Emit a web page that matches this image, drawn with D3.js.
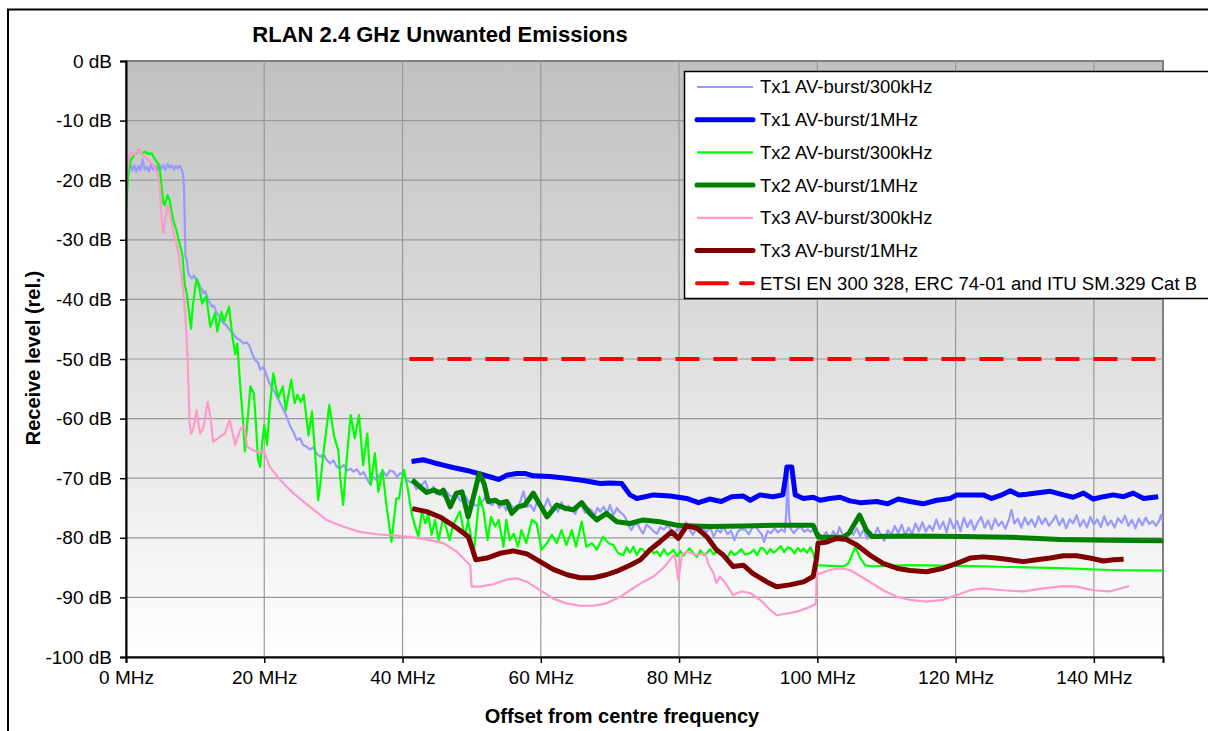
<!DOCTYPE html>
<html>
<head>
<meta charset="utf-8">
<script src="https://cdn.jsdelivr.net/npm/d3@7"></script>
<style>
  body { margin: 0; background: #fff; }
  svg { display: block; font-family: "Liberation Sans", Arial, sans-serif; }
</style>
</head>
<body>
<svg id="drawing_region"></svg>
<script>
// values: [offset MHz, level dB]
const tx1_300k = [[0,-22],[0.3,-18.8],[0.6,-17.2],[0.9,-18.4],[1.2,-17.5],[1.5,-18.6],[1.8,-17.6],[2.1,-18.3],[2.4,-16.5],[2.7,-18.2],[3.0,-17.8],[3.3,-18.5],[3.6,-17.4],[3.9,-18.2],[4.2,-17.6],[4.5,-18.4],[4.8,-17.3],[5.1,-18.1],[5.4,-17.5],[5.7,-18.3],[6.0,-17.2],[6.3,-17.9],[6.6,-17.5],[6.9,-18.2],[7.2,-17.6],[7.5,-18.0],[7.8,-17.6],[8.1,-18.3],[8.3,-19.5],[8.4,-21.6],[8.5,-27.2],[8.6,-32.8],[8.8,-33.5],[9.0,-35.6],[9.3,-36.2],[9.5,-36.5],[9.8,-36.0],[10.2,-36.7],[10.5,-37.2],[10.7,-37.9],[11.0,-38.3],[11.2,-39.0],[11.5,-38.6],[11.7,-39.5],[12.0,-40.3],[12.4,-41.2],[12.7,-41.0],[13.1,-42.3],[13.5,-42.8],[14.1,-44.0],[14.5,-44.3],[15.0,-45.1],[15.5,-45.8],[16.0,-46.5],[16.5,-46.8],[17.0,-47.4],[17.5,-47.2],[17.9,-47.9],[18.3,-49.3],[18.7,-50.2],[19.1,-50.6],[19.4,-51.8],[19.9,-51.3],[20.4,-53.0],[20.8,-54.2],[21.5,-55.5],[22.3,-57.4],[23.0,-59.0],[23.7,-61.1],[24.2,-62.2],[24.7,-63.6],[25.2,-63.3],[25.6,-64.4],[26.1,-64.7],[26.6,-65.2],[27.1,-64.8],[27.6,-65.9],[28.1,-66.4],[28.6,-66.0],[29.0,-66.9],[29.5,-67.5],[30.0,-67.0],[30.5,-68.1],[31.0,-68.3],[31.5,-67.8],[32.0,-68.7],[32.5,-68.4],[32.9,-68.9],[33.4,-68.5],[33.9,-69.4],[34.4,-69.0],[34.8,-70.0],[35.3,-71.0],[35.8,-69.8],[36.3,-70.4],[36.8,-69.2],[37.2,-68.9],[37.7,-69.6],[38.2,-68.7],[38.7,-68.9],[39.2,-69.8],[39.7,-69.1],[40.1,-69.5],[40.6,-70.3],[41.1,-70.6],[41.6,-70.9],[42.0,-71.8],[42.5,-71.6],[43.0,-70.8],[43.3,-70.5],[43.7,-71.9],[44.0,-72.2],[44.5,-71.4],[44.9,-72.7],[45.4,-72.0],[45.8,-73.0],[46.3,-72.2],[46.8,-72.9],[47.3,-73.1],[47.8,-72.4],[48.2,-73.6],[48.6,-73.9],[49.1,-73.0],[49.6,-74.1],[50.0,-73.7],[50.5,-74.6],[51.2,-74.5],[51.6,-73.8],[52.0,-73.1],[52.5,-74.2],[53.0,-74.5],[53.5,-73.6],[54.0,-75.0],[54.5,-74.3],[55.0,-75.4],[55.5,-74.2],[56.0,-75.0],[56.5,-75.3],[57.0,-74.0],[57.5,-72.2],[58.0,-74.8],[58.5,-74.5],[59.0,-75.5],[59.4,-74.2],[59.9,-74.5],[60.4,-75.2],[61.0,-73.4],[61.5,-74.9],[62.0,-74.8],[62.5,-75.6],[63.0,-74.0],[63.5,-75.4],[64.0,-74.6],[64.5,-75.3],[65.0,-76.0],[65.5,-74.5],[65.9,-74.5],[66.4,-75.8],[66.8,-75.1],[67.3,-75.3],[67.8,-76.2],[68.2,-75.0],[68.6,-75.6],[69.1,-74.8],[69.6,-75.9],[70.0,-74.5],[70.5,-76.2],[71.0,-75.0],[71.4,-75.6],[71.8,-76.0],[72.2,-76.5],[72.6,-77.8],[73.1,-78.7],[73.6,-77.6],[74.1,-77.9],[74.5,-78.8],[74.8,-79.3],[75.3,-77.8],[75.9,-78.4],[76.3,-78.9],[76.8,-79.3],[77.3,-78.2],[77.8,-78.6],[78.4,-77.9],[78.9,-78.8],[79.4,-79.3],[79.9,-78.3],[80.4,-78.8],[81.0,-77.4],[81.5,-78.6],[82.0,-79.5],[82.5,-78.4],[83.0,-78.9],[83.4,-78.4],[84.0,-79.0],[84.5,-78.2],[85.0,-79.8],[85.5,-78.6],[86.0,-79.1],[86.4,-78.1],[87.0,-79.4],[87.5,-78.8],[88.0,-80.4],[88.5,-79.0],[89.0,-78.5],[89.6,-78.7],[90.1,-79.4],[90.5,-78.5],[91.0,-77.9],[91.5,-78.8],[92.0,-79.5],[92.3,-80.7],[92.8,-78.9],[93.3,-79.2],[93.8,-78.4],[94.3,-79.1],[94.8,-78.6],[95.3,-79.0],[95.5,-76.0],[95.7,-69.2],[95.9,-76.0],[96.1,-78.4],[96.6,-79.2],[97.1,-78.5],[97.6,-78.1],[98.1,-79.0],[98.6,-78.6],[99.0,-79.0],[99.5,-78.7],[100.0,-79.2],[100.3,-79.3],[100.8,-80.0],[101.3,-79.0],[101.8,-80.3],[102.3,-78.9],[102.8,-79.8],[103.2,-78.2],[103.7,-79.6],[104.2,-80.4],[104.7,-78.8],[105.2,-79.5],[105.7,-78.4],[106.2,-79.7],[106.7,-78.6],[107.2,-80.2],[107.7,-79.0],[108.2,-79.8],[108.7,-78.3],[109.2,-79.6],[109.7,-80.5],[110.2,-78.7],[110.7,-79.5],[111.2,-78.0],[111.7,-79.2],[112.2,-77.8],[112.7,-79.6],[113.2,-78.3],[113.7,-79.4],[114.2,-77.6],[114.7,-78.9],[115.2,-77.4],[115.7,-79.0],[116.2,-77.9],[116.7,-78.8],[117.2,-76.9],[117.7,-78.5],[118.2,-77.3],[118.7,-79.1],[119.2,-76.8],[119.7,-78.4],[120.2,-77.2],[120.7,-78.9],[121.2,-76.6],[121.7,-78.2],[122.2,-77.0],[122.7,-78.7],[123.2,-77.4],[123.7,-76.5],[124.2,-78.3],[124.7,-77.1],[125.2,-78.6],[125.7,-76.8],[126.2,-78.0],[126.7,-77.3],[127.2,-78.5],[127.7,-77.0],[128.1,-75.3],[128.5,-77.6],[129.0,-76.8],[129.5,-78.3],[130.0,-76.6],[130.5,-77.8],[131.0,-76.9],[131.5,-78.2],[132.0,-76.4],[132.5,-77.7],[133.0,-76.7],[133.5,-78.0],[134.0,-77.2],[134.5,-76.3],[135.0,-77.9],[135.5,-76.8],[136.0,-78.4],[136.5,-76.9],[137.0,-77.6],[137.5,-76.2],[138.0,-78.1],[138.5,-77.0],[139.0,-78.3],[139.5,-76.5],[140.0,-77.8],[140.5,-76.9],[141.0,-78.2],[141.5,-76.4],[142.0,-77.9],[142.5,-77.1],[143.0,-78.3],[143.5,-76.7],[144.0,-77.5],[144.5,-76.3],[145.0,-78.0],[145.5,-77.0],[146.0,-78.4],[146.5,-76.8],[147.0,-77.9],[147.5,-76.6],[148.0,-77.7],[148.5,-77.2],[149.0,-78.0],[149.5,-77.0],[149.7,-76.2],[150,-77.3]];

const tx1_1M = [[41.3,-67.2],[43.0,-66.9],[44.5,-67.4],[45.9,-67.8],[47.3,-68.2],[49.3,-68.7],[51.2,-69.3],[52.7,-69.8],[53.9,-70.2],[55.1,-69.5],[56.5,-69.2],[57.7,-69.2],[58.9,-69.6],[61.3,-69.7],[63.7,-70.0],[66.2,-70.4],[68.6,-70.9],[70.0,-70.8],[71.7,-70.9],[72.9,-72.8],[73.9,-73.4],[76.3,-72.8],[78.7,-73.0],[81.1,-73.4],[82.8,-74.1],[84.4,-73.5],[86.1,-73.9],[87.6,-73.1],[89.3,-73.0],[90.3,-73.7],[91.7,-72.8],[93.6,-73.1],[95.0,-72.8],[95.4,-70.0],[95.6,-68.1],[96.3,-68.1],[96.5,-70.0],[96.8,-72.8],[98.0,-73.4],[99.4,-73.2],[100.4,-73.7],[101.8,-73.4],[103.3,-73.2],[104.7,-73.8],[106.2,-74.1],[108.6,-73.9],[110.2,-74.3],[111.7,-73.5],[113.4,-73.9],[115.3,-74.3],[117.3,-73.7],[119.2,-73.4],[120.2,-72.8],[122.1,-72.8],[124.0,-72.8],[125.2,-73.4],[126.7,-72.8],[127.9,-72.1],[129.1,-72.8],[130.3,-72.7],[131.7,-72.5],[133.7,-72.2],[135.6,-72.8],[137.0,-73.2],[138.5,-72.5],[139.9,-73.5],[141.4,-73.1],[142.8,-72.8],[144.3,-73.1],[145.7,-72.5],[147.2,-73.4],[149.3,-73.1]];

const tx2_300k = [[0,-25],[0.3,-19.4],[0.7,-16.6],[1.2,-15.8],[1.5,-15.5],[1.8,-14.9],[2.3,-15.6],[2.7,-15.2],[3.2,-15.6],[3.7,-15.5],[4.1,-16.3],[4.6,-17.2],[4.9,-18.3],[5.1,-20.5],[5.4,-23.9],[5.6,-24.2],[6.0,-22.5],[6.3,-23.3],[6.6,-25.3],[6.9,-27.0],[7.3,-28.4],[7.6,-30.0],[8.0,-31.7],[8.2,-33.0],[8.5,-37.5],[8.8,-39.0],[9.1,-42.0],[9.4,-44.9],[9.7,-40.7],[10.2,-36.5],[10.6,-38.0],[11.0,-40.7],[11.6,-39.5],[12.2,-44.6],[12.9,-42.3],[13.2,-45.4],[13.8,-42.1],[14.2,-43.7],[14.9,-41.2],[15.4,-46.3],[15.8,-49.2],[16.1,-47.4],[16.5,-54.1],[16.9,-60.0],[17.2,-65.5],[17.6,-60.0],[18.0,-54.6],[18.5,-55.8],[18.8,-61.0],[19.1,-66.9],[19.4,-68.1],[19.7,-64.0],[20.0,-61.1],[20.4,-64.4],[20.8,-58.0],[21.3,-52.4],[22.0,-56.6],[22.7,-54.6],[23.1,-58.6],[23.9,-53.5],[24.4,-57.4],[24.8,-56.0],[25.3,-57.2],[25.7,-56.0],[26.4,-62.8],[26.9,-58.8],[27.3,-65.0],[27.8,-73.7],[28.1,-71.0],[28.5,-66.4],[29.4,-57.7],[30.1,-63.0],[30.7,-65.3],[31.0,-70.0],[31.4,-74.5],[32.0,-65.8],[32.5,-59.4],[33.1,-63.3],[33.7,-59.4],[34.3,-67.8],[34.9,-62.5],[35.4,-71.1],[36.0,-65.8],[36.5,-72.3],[37.1,-68.6],[37.7,-74.8],[38.4,-80.7],[39.1,-73.4],[39.5,-73.4],[39.8,-71.0],[40.2,-68.6],[40.8,-72.0],[41.3,-75.9],[41.8,-78.0],[42.3,-79.8],[42.8,-75.6],[43.3,-77.6],[43.7,-75.9],[44.2,-79.5],[44.7,-77.0],[45.2,-80.4],[45.9,-76.5],[46.8,-80.4],[47.3,-77.9],[48.3,-75.6],[49.0,-79.8],[49.5,-77.0],[50.3,-82.6],[51.1,-73.1],[51.7,-75.3],[52.3,-80.4],[52.8,-76.5],[53.4,-78.1],[53.9,-77.0],[54.6,-81.5],[55.0,-77.0],[55.5,-80.4],[56.1,-79.3],[56.7,-81.5],[57.2,-78.7],[57.9,-80.9],[58.7,-77.0],[59.4,-77.6],[60.1,-82.0],[60.9,-80.9],[61.6,-79.5],[62.3,-80.9],[63.0,-78.7],[63.7,-81.2],[64.5,-78.7],[65.1,-81.5],[65.9,-77.3],[66.6,-81.5],[67.4,-80.9],[68.1,-82.0],[69.0,-79.8],[69.8,-80.9],[70.5,-81.2],[71.2,-82.6],[71.9,-82.9],[72.4,-81.6],[72.9,-82.5],[73.4,-81.5],[73.9,-82.9],[74.4,-81.8],[74.8,-82.0],[75.3,-83.0],[75.8,-81.7],[76.3,-82.6],[76.8,-82.3],[77.3,-83.1],[77.8,-81.9],[78.3,-82.8],[78.7,-82.6],[79.2,-82.0],[79.7,-83.1],[80.2,-82.2],[80.6,-83.0],[81.0,-82.5],[81.5,-81.8],[82.1,-82.6],[82.6,-83.2],[83.1,-82.1],[83.6,-82.9],[84.0,-82.6],[84.5,-81.9],[85.0,-82.8],[85.5,-82.2],[86.0,-82.5],[86.5,-83.0],[87.0,-83.3],[87.5,-82.2],[88.0,-82.9],[88.5,-82.5],[89.0,-81.9],[89.5,-82.8],[90.3,-82.6],[90.8,-82.0],[91.3,-82.9],[91.8,-81.7],[92.2,-81.8],[92.7,-82.7],[93.2,-81.9],[93.7,-82.5],[94.2,-82.0],[94.7,-81.4],[95.2,-82.4],[95.7,-81.6],[96.2,-81.8],[96.7,-82.6],[97.2,-81.7],[97.6,-82.3],[98.0,-81.8],[98.5,-82.5],[99.0,-81.6],[99.4,-82.6],[99.9,-84.6],[101.8,-84.7],[103.8,-84.8],[104.5,-84.3],[105.5,-81.5],[106.1,-83.2],[106.9,-84.6],[107.9,-84.8],[113.4,-84.6],[120.6,-84.7],[127.9,-84.9],[135.1,-85.1],[142.3,-85.4],[150,-85.5]];

const tx2_1M = [[41.4,-70.3],[42.5,-71.4],[43.5,-72.4],[44.5,-72.0],[45.4,-72.5],[45.9,-72.0],[46.9,-74.8],[47.8,-72.5],[48.6,-72.3],[49.5,-76.5],[50.2,-73.4],[51.1,-69.2],[51.8,-70.9],[52.4,-73.9],[53.4,-73.7],[54.1,-74.2],[55.1,-73.9],[55.8,-75.9],[56.7,-74.8],[57.7,-74.5],[58.9,-72.5],[59.9,-74.5],[60.9,-76.5],[62.3,-74.5],[63.7,-75.1],[64.7,-75.3],[65.9,-74.1],[67.1,-75.9],[68.1,-77.0],[69.5,-75.9],[71.0,-77.3],[72.9,-77.6],[74.8,-77.0],[77.2,-77.3],[79.7,-77.9],[82.1,-78.0],[84.5,-78.1],[89.3,-78.0],[94.1,-77.9],[99.4,-77.9],[99.9,-79.3],[100.2,-79.9],[103.8,-79.9],[104.6,-79.2],[106.1,-76.2],[107.1,-78.7],[107.9,-79.8],[113.4,-79.7],[120.6,-79.8],[127.9,-79.9],[135.1,-80.3],[142.3,-80.4],[150,-80.5]];

const tx3_300k = [[0,-22.5],[0.2,-18.3],[0.5,-15.8],[0.9,-15.2],[1.3,-15.8],[1.7,-14.9],[2.2,-15.4],[2.7,-16.1],[3.2,-16.6],[3.7,-17.2],[4.1,-17.8],[4.5,-18.8],[4.9,-21.1],[5.1,-25.6],[5.4,-28.9],[5.6,-27.2],[6.0,-24.2],[6.3,-25.0],[6.6,-27.2],[7.0,-29.5],[7.5,-31.7],[7.9,-35.0],[8.3,-38.4],[8.7,-45.1],[8.9,-49.6],[9.2,-60.8],[9.4,-62.5],[9.7,-61.9],[10.2,-58.6],[10.7,-62.5],[11.2,-61.5],[11.8,-57.2],[12.2,-59.5],[12.6,-63.9],[13.1,-63.5],[13.6,-63.0],[14.3,-62.5],[15.0,-60.2],[15.8,-64.4],[16.5,-61.9],[17.1,-61.1],[17.5,-64.7],[18.4,-65.3],[19.4,-65.7],[19.9,-65.3],[20.8,-68.1],[22.3,-70.3],[24.2,-72.5],[26.6,-74.8],[29.0,-77.0],[31.4,-78.1],[33.8,-79.0],[36.3,-79.4],[38.7,-79.6],[40.6,-79.8],[42.5,-80.1],[43.5,-80.3],[45.9,-80.9],[47.8,-82.3],[49.8,-84.6],[50.0,-88.2],[51.2,-88.2],[53.1,-87.8],[55.1,-87.0],[56.5,-86.8],[58.0,-87.4],[59.9,-88.8],[61.8,-90.2],[63.7,-91.0],[65.7,-91.4],[67.6,-91.4],[69.5,-91.0],[71.5,-89.9],[72.9,-88.8],[74.8,-87.4],[76.3,-86.5],[77.7,-85.1],[78.7,-83.7],[79.2,-82.9],[79.5,-83.7],[79.9,-87.1],[80.4,-82.9],[81.1,-82.3],[82.6,-82.9],[83.8,-82.6],[84.2,-84.3],[85.0,-86.0],[85.4,-87.6],[85.9,-86.5],[86.6,-87.4],[87.8,-89.6],[89.0,-89.0],[90.3,-89.3],[91.7,-90.4],[93.2,-92.1],[94.1,-93.0],[95.6,-92.7],[97.0,-92.4],[98.5,-91.8],[99.8,-91.1],[99.9,-86.2],[100.4,-86.0],[101.8,-85.4],[103.3,-85.1],[104.7,-85.4],[106.2,-86.4],[107.6,-87.4],[109.5,-88.8],[111.5,-89.9],[113.4,-90.4],[115.8,-90.7],[118.2,-90.4],[120.2,-89.6],[122.1,-88.8],[124.0,-88.5],[126.9,-88.8],[129.8,-89.0],[132.7,-88.5],[135.6,-88.1],[137.5,-88.2],[139.9,-88.8],[142.3,-89.0],[143.8,-88.5],[145.1,-88.1]];

const tx3_1M = [[41.4,-75.1],[43.5,-75.6],[45.4,-76.5],[47.3,-77.9],[49.5,-79.8],[50.0,-81.5],[50.6,-83.7],[52.2,-83.4],[54.1,-82.6],[56.0,-82.2],[58.0,-82.7],[59.9,-84.0],[61.8,-85.3],[63.8,-86.2],[65.7,-86.7],[67.6,-86.7],[69.5,-86.2],[71.0,-85.6],[72.9,-84.6],[74.4,-83.7],[75.8,-82.0],[77.2,-80.7],[78.9,-79.0],[79.9,-80.1],[81.1,-78.0],[82.6,-78.4],[84.0,-79.8],[85.4,-82.0],[86.4,-82.9],[87.8,-84.8],[89.3,-84.6],[90.7,-86.0],[92.7,-87.4],[94.1,-88.2],[96.0,-87.9],[98.0,-87.4],[99.4,-86.5],[99.9,-83.4],[100.1,-80.9],[101.4,-80.7],[102.8,-80.1],[104.2,-80.3],[105.7,-81.2],[107.6,-82.9],[109.5,-84.3],[111.5,-85.1],[113.4,-85.5],[115.8,-85.7],[118.2,-85.1],[120.2,-84.3],[122.1,-83.4],[124.0,-83.2],[125.9,-83.4],[127.9,-83.7],[129.8,-84.0],[131.7,-83.7],[133.7,-83.4],[135.6,-83.0],[137.5,-83.0],[139.4,-83.4],[141.4,-83.9],[142.8,-83.7],[144.3,-83.6]];

const etsi_limit = [[41,-50],[150,-50]];

const series_names = ["Tx1 AV-burst/300kHz","Tx1 AV-burst/1MHz","Tx2 AV-burst/300kHz","Tx2 AV-burst/1MHz","Tx3 AV-burst/300kHz","Tx3 AV-burst/1MHz","ETSI EN 300 328, ERC 74-01 and ITU SM.329 Cat B"];
const x_ticks = [0,20,40,60,80,100,120,140];
const y_ticks = [0,-10,-20,-30,-40,-50,-60,-70,-80,-90,-100];

const series = [
    {name: series_names[0], values: tx1_300k, color: '#9999ff', width: 2.2},
    {name: series_names[1], values: tx1_1M, color: '#0000ff', width: 5},
    {name: series_names[2], values: tx2_300k, color: '#00ff00', width: 2.2},
    {name: series_names[3], values: tx2_1M, color: '#008000', width: 5},
    {name: series_names[4], values: tx3_300k, color: '#ff99cc', width: 2.2},
    {name: series_names[5], values: tx3_1M, color: '#800000', width: 5},
    {name: series_names[6], values: etsi_limit, color: '#ff0000', width: 4, dash: '24,14'}
];

var config = {
    parent: '#drawing_region',
    width: 1208,
    height: 731,
    margin: {top:61, right:45, bottom:74, left:126}
};

class EmissionChart {

    constructor( config, series ) {
        this.config = config;
        this.series = series;
        this.init();
    }

    init() {
        let self = this;

        self.svg = d3.select( self.config.parent )
            .attr('width', self.config.width)
            .attr('height', self.config.height);

        self.inner_width = self.config.width - self.config.margin.left - self.config.margin.right;
        self.inner_height = self.config.height - self.config.margin.top - self.config.margin.bottom;

        // outer frame of the chart object
        self.svg.append('rect')
            .attr('x', 8).attr('y', 9.5)
            .attr('width', 1220).attr('height', 740)
            .attr('fill', 'none').attr('stroke', '#000').attr('stroke-width', 2);

        const defs = self.svg.append('defs');
        const grad = defs.append('linearGradient')
            .attr('id', 'plotbg').attr('x1', 0).attr('y1', 0).attr('x2', 0).attr('y2', 1);
        grad.append('stop').attr('offset', '0%').attr('stop-color', '#c0c0c0');
        grad.append('stop').attr('offset', '100%').attr('stop-color', '#ffffff');
        defs.append('clipPath').attr('id', 'plotclip')
            .append('rect')
            .attr('width', self.inner_width).attr('height', self.inner_height);

        self.chart = self.svg.append('g')
            .attr('transform', `translate(${self.config.margin.left}, ${self.config.margin.top})`);

        self.xscale = d3.scaleLinear().domain([0, 150]).range([0, self.inner_width]);
        self.yscale = d3.scaleLinear().domain([-100, 0]).range([self.inner_height, 0]);

        self.chart.append('rect')
            .attr('width', self.inner_width).attr('height', self.inner_height)
            .attr('fill', 'url(#plotbg)')
            .attr('stroke', '#808080').attr('stroke-width', 2);

        self.grid = self.chart.append('g');
        self.lines = self.chart.append('g').attr('clip-path', 'url(#plotclip)');

        self.xaxis = d3.axisBottom( self.xscale )
            .tickValues(x_ticks).tickSize(6).tickPadding(8)
            .tickFormat(d => `${d} MHz`);
        self.xaxis_group = self.chart.append('g')
            .attr('transform', `translate(0, ${self.inner_height})`);

        self.yaxis = d3.axisLeft( self.yscale )
            .tickValues(y_ticks).tickSize(6).tickPadding(8)
            .tickFormat(d => `${d} dB`);
        self.yaxis_group = self.chart.append('g');

        self.svg.append('text')
            .attr('x', 440).attr('y', 42)
            .attr('text-anchor', 'middle')
            .attr('font-size', '22px').attr('font-weight', 'bold')
            .text('RLAN 2.4 GHz Unwanted Emissions');

        self.svg.append('text')
            .attr('x', 622).attr('y', 723)
            .attr('text-anchor', 'middle')
            .attr('font-size', '20px').attr('font-weight', 'bold')
            .text('Offset from centre frequency');

        self.svg.append('text')
            .attr('transform', 'translate(40, 358) rotate(-90)')
            .attr('text-anchor', 'middle')
            .attr('font-size', '20px').attr('font-weight', 'bold')
            .text('Receive level (rel.)');

        self.legend = self.svg.append('g');
    }

    render() {
        let self = this;

        self.grid.selectAll('.hgrid')
            .data(y_ticks.slice(1, -1))
            .join('line')
            .attr('x1', 0).attr('x2', self.inner_width)
            .attr('y1', d => self.yscale(d)).attr('y2', d => self.yscale(d))
            .attr('stroke', '#999').attr('stroke-width', 1.2);

        self.grid.selectAll('.vgrid')
            .data(x_ticks.slice(1))
            .join('line')
            .attr('y1', 0).attr('y2', self.inner_height)
            .attr('x1', d => self.xscale(d)).attr('x2', d => self.xscale(d))
            .attr('stroke', '#999').attr('stroke-width', 1.2);

        const line = d3.line()
            .x( d => self.xscale(d[0]) )
            .y( d => self.yscale(d[1]) );

        self.lines.selectAll('path')
            .data(self.series)
            .join('path')
            .attr('d', d => line(d.values))
            .attr('fill', 'none')
            .attr('stroke', d => d.color)
            .attr('stroke-width', d => d.width)
            .attr('stroke-dasharray', d => d.dash || null)
            .attr('stroke-linejoin', 'round');

        self.xaxis_group.call(self.xaxis);
        self.yaxis_group.call(self.yaxis);
        [self.xaxis_group, self.yaxis_group].forEach(g => {
            g.select('.domain').attr('stroke', '#000').attr('stroke-width', 2);
            g.selectAll('.tick line').attr('stroke', '#000').attr('stroke-width', 1.5);
            g.selectAll('.tick text')
                .attr('font-family', '"Liberation Sans", Arial, sans-serif')
                .attr('font-size', '19px').attr('fill', '#000');
        });

        // legend box
        self.legend.append('rect')
            .attr('x', 684.5).attr('y', 71.5)
            .attr('width', 540).attr('height', 227)
            .attr('fill', '#fff').attr('stroke', '#000').attr('stroke-width', 1.5);

        const rows = self.legend.selectAll('.row')
            .data(self.series)
            .join('g')
            .attr('transform', (d, i) => `translate(0, ${87 + i * 32.7})`);

        rows.append('line')
            .attr('x1', 697).attr('x2', 753)
            .attr('stroke', d => d.color)
            .attr('stroke-width', d => d.width)
            .attr('stroke-dasharray', d => d.dash ? '30,14' : null)
            .attr('stroke-linecap', d => d.width > 3 ? 'round' : 'butt');

        rows.append('text')
            .attr('x', 760).attr('dy', '0.35em')
            .attr('font-size', '18.5px')
            .text(d => d.name);
    }
}

const chart = new EmissionChart( config, series );
chart.render();
</script>
</body>
</html>
